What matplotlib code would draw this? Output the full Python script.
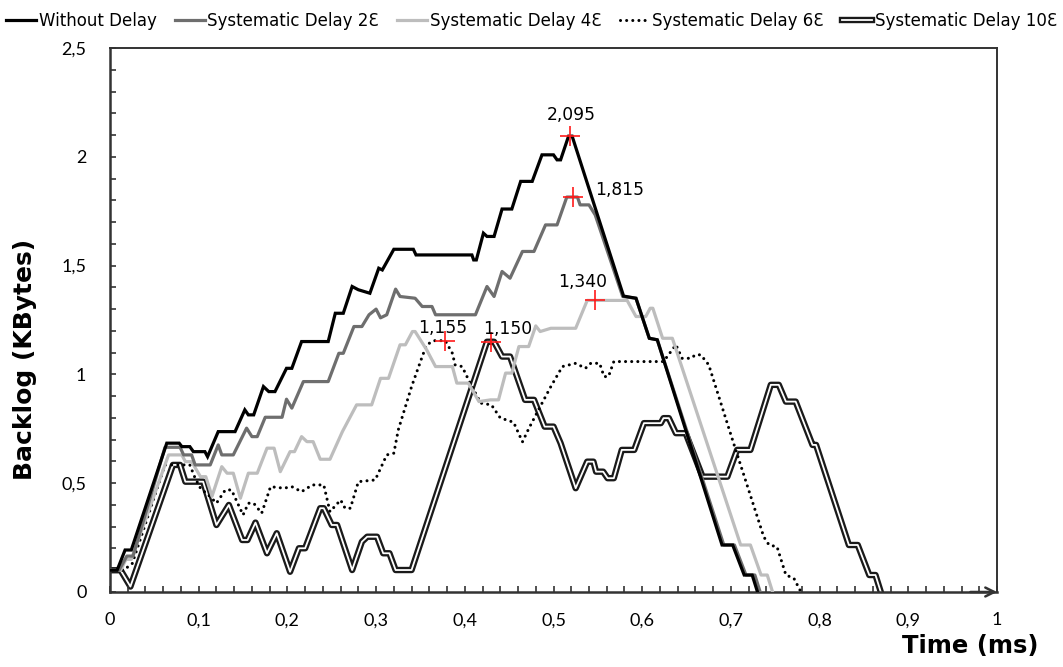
import matplotlib
matplotlib.use("Agg")
import matplotlib.pyplot as plt
import matplotlib.patheffects as pe
from matplotlib.ticker import MultipleLocator, FuncFormatter

# Backlog traces (time in ms, backlog in KBytes)
no_delay_t = [0, 0.008, 0.017, 0.024, 0.064, 0.078, 0.081, 0.090, 0.094, 0.107, 0.110, 0.122, 0.141,
              0.152, 0.156, 0.162, 0.173, 0.179, 0.186, 0.199, 0.205, 0.216, 0.246, 0.254, 0.263,
              0.273, 0.280, 0.293, 0.303, 0.307, 0.320, 0.342, 0.345, 0.408, 0.410, 0.413, 0.421,
              0.425, 0.433, 0.442, 0.453, 0.463, 0.476, 0.487, 0.500, 0.504, 0.508, 0.517, 0.521,
              0.579, 0.593, 0.608, 0.617, 0.690, 0.702, 0.715, 0.724, 0.730]
no_delay_b = [0.10, 0.10, 0.193, 0.193, 0.684, 0.684, 0.668, 0.668, 0.645, 0.645, 0.622, 0.737, 0.737,
              0.837, 0.814, 0.814, 0.944, 0.921, 0.921, 1.028, 1.028, 1.151, 1.151, 1.281, 1.281,
              1.404, 1.389, 1.373, 1.488, 1.480, 1.575, 1.575, 1.549, 1.549, 1.526, 1.526, 1.649,
              1.634, 1.634, 1.760, 1.760, 1.887, 1.887, 2.009, 2.009, 1.986, 1.986, 2.095, 2.095,
              1.360, 1.350, 1.166, 1.159, 0.216, 0.216, 0.078, 0.078, 0.0]

delay2_t = [0, 0.010, 0.019, 0.026, 0.062, 0.079, 0.083, 0.092, 0.096, 0.113, 0.122, 0.126, 0.139,
            0.154, 0.160, 0.166, 0.175, 0.194, 0.199, 0.205, 0.218, 0.246, 0.258, 0.263, 0.275,
            0.284, 0.292, 0.300, 0.305, 0.312, 0.322, 0.327, 0.344, 0.352, 0.363, 0.367, 0.412,
            0.425, 0.433, 0.442, 0.451, 0.465, 0.478, 0.491, 0.504, 0.515, 0.527, 0.530, 0.540,
            0.547, 0.578, 0.593, 0.608, 0.617, 0.692, 0.704, 0.717, 0.727, 0.733]
delay2_b = [0.10, 0.10, 0.165, 0.165, 0.665, 0.665, 0.630, 0.630, 0.584, 0.584, 0.676, 0.630, 0.630,
            0.753, 0.714, 0.714, 0.803, 0.803, 0.886, 0.845, 0.967, 0.967, 1.097, 1.097, 1.220,
            1.220, 1.274, 1.300, 1.260, 1.274, 1.392, 1.358, 1.350, 1.312, 1.312, 1.274, 1.274,
            1.404, 1.358, 1.473, 1.442, 1.565, 1.565, 1.687, 1.687, 1.815, 1.815, 1.779, 1.779,
            1.733, 1.358, 1.350, 1.166, 1.159, 0.216, 0.216, 0.078, 0.078, 0.0]

delay4_t = [0, 0.012, 0.018, 0.024, 0.066, 0.081, 0.085, 0.092, 0.102, 0.108, 0.115, 0.126, 0.132,
            0.139, 0.147, 0.156, 0.166, 0.177, 0.185, 0.192, 0.203, 0.208, 0.216, 0.222, 0.229,
            0.237, 0.248, 0.262, 0.278, 0.295, 0.305, 0.314, 0.327, 0.333, 0.341, 0.344, 0.357,
            0.367, 0.386, 0.391, 0.404, 0.416, 0.429, 0.438, 0.446, 0.453, 0.461, 0.472, 0.480,
            0.485, 0.497, 0.525, 0.538, 0.583, 0.593, 0.604, 0.609, 0.612, 0.623, 0.634, 0.711,
            0.722, 0.734, 0.741, 0.747]
delay4_b = [0.10, 0.10, 0.15, 0.15, 0.630, 0.630, 0.599, 0.599, 0.530, 0.530, 0.440, 0.576, 0.546,
            0.546, 0.431, 0.546, 0.546, 0.661, 0.661, 0.553, 0.645, 0.645, 0.714, 0.691, 0.691,
            0.610, 0.610, 0.737, 0.860, 0.860, 0.982, 0.982, 1.136, 1.136, 1.197, 1.197, 1.113,
            1.036, 1.036, 0.960, 0.960, 0.875, 0.883, 0.883, 1.006, 1.006, 1.128, 1.128, 1.223,
            1.197, 1.212, 1.212, 1.340, 1.340, 1.266, 1.266, 1.304, 1.304, 1.166, 1.166, 0.216,
            0.216, 0.078, 0.078, 0.0]

delay6_t = [0, 0.015, 0.025, 0.062, 0.090, 0.096, 0.102, 0.113, 0.120, 0.130, 0.137, 0.150, 0.156,
            0.162, 0.171, 0.181, 0.196, 0.205, 0.216, 0.228, 0.241, 0.248, 0.260, 0.265, 0.271,
            0.280, 0.299, 0.312, 0.320, 0.325, 0.340, 0.352, 0.357, 0.365, 0.378, 0.386, 0.389,
            0.397, 0.406, 0.418, 0.430, 0.440, 0.455, 0.465, 0.472, 0.485, 0.497, 0.510, 0.525,
            0.536, 0.542, 0.552, 0.557, 0.562, 0.568, 0.624, 0.638, 0.645, 0.655, 0.660, 0.666,
            0.675, 0.703, 0.737, 0.743, 0.752, 0.762, 0.771, 0.779]
delay6_b = [0.10, 0.10, 0.13, 0.584, 0.584, 0.523, 0.477, 0.438, 0.408, 0.469, 0.469, 0.354, 0.408,
            0.408, 0.362, 0.484, 0.477, 0.484, 0.461, 0.492, 0.492, 0.369, 0.423, 0.385, 0.385,
            0.507, 0.515, 0.630, 0.638, 0.745, 0.944, 1.082, 1.136, 1.155, 1.155, 1.097, 1.044,
            1.036, 0.960, 0.868, 0.860, 0.800, 0.780, 0.690, 0.750, 0.852, 0.944, 1.036, 1.051,
            1.028, 1.051, 1.051, 0.990, 0.990, 1.059, 1.059, 1.136, 1.074, 1.074, 1.090, 1.090,
            1.044, 0.684, 0.254, 0.216, 0.208, 0.078, 0.063, 0.0]

delay10_t = [0, 0.012, 0.023, 0.071, 0.079, 0.085, 0.105, 0.120, 0.134, 0.149, 0.155, 0.164, 0.177,
             0.188, 0.203, 0.213, 0.220, 0.237, 0.241, 0.250, 0.256, 0.273, 0.284, 0.290, 0.301,
             0.308, 0.315, 0.322, 0.340, 0.425, 0.433, 0.442, 0.451, 0.468, 0.478, 0.490, 0.500,
             0.508, 0.525, 0.538, 0.545, 0.548, 0.556, 0.561, 0.568, 0.577, 0.591, 0.602, 0.621,
             0.624, 0.630, 0.638, 0.649, 0.668, 0.696, 0.707, 0.722, 0.745, 0.754, 0.762, 0.773,
             0.792, 0.796, 0.833, 0.843, 0.856, 0.863, 0.869]
delay10_b = [0.10, 0.10, 0.025, 0.584, 0.584, 0.507, 0.507, 0.308, 0.400, 0.239, 0.239, 0.319, 0.178,
             0.270, 0.093, 0.201, 0.201, 0.385, 0.385, 0.308, 0.308, 0.101, 0.231, 0.254, 0.254,
             0.178, 0.178, 0.101, 0.101, 1.150, 1.150, 1.082, 1.082, 0.883, 0.883, 0.760, 0.760,
             0.684, 0.477, 0.599, 0.599, 0.553, 0.553, 0.523, 0.523, 0.653, 0.653, 0.776, 0.776,
             0.799, 0.799, 0.730, 0.730, 0.530, 0.530, 0.653, 0.653, 0.952, 0.952, 0.875, 0.875,
             0.676, 0.676, 0.216, 0.216, 0.078, 0.078, 0.0]

series_labels = ["Without Delay", "Systematic Delay 2\u0190", "Systematic Delay 4\u0190",
                 "Systematic Delay 6\u0190", "Systematic Delay 10\u0190"]

# Maximum backlog of each trace
peak_t = [0.519, 0.522, 0.547, 0.378, 0.429]
peak_b = [2.095, 1.815, 1.340, 1.155, 1.150]

x_ticks = [0, 0.1, 0.2, 0.3, 0.4, 0.5, 0.6, 0.7, 0.8, 0.9, 1]
y_ticks = [0, 0.5, 1, 1.5, 2, 2.5]


def comma(v, _pos=None):
    return f"{v:g}".replace(".", ",")


plt.rcParams["font.family"] = ["DejaVu Sans"]

fig = plt.figure(figsize=(10.63, 6.67), dpi=100)
ax = fig.add_axes([110 / 1063, 1 - 592 / 667, (997 - 110) / 1063, (592 - 48) / 667])

ax.plot(no_delay_t, no_delay_b, color="black", lw=2.3, solid_joinstyle="miter",
        label=series_labels[0], zorder=5)
ax.plot(delay2_t, delay2_b, color="#6e6e6e", lw=2.3, label=series_labels[1], zorder=4)
ax.plot(delay4_t, delay4_b, color="#bdbdbd", lw=2.3, label=series_labels[2], zorder=3)
ax.plot(delay6_t, delay6_b, color="black", lw=2.2, linestyle=(0, (0.01, 2.0)),
        dash_capstyle="round", label=series_labels[3], zorder=2)
ax.plot(delay10_t, delay10_b, color="white", lw=1.3, label=series_labels[4], zorder=1,
        path_effects=[pe.Stroke(linewidth=4.6, foreground="#1a1a1a"), pe.Normal()])

# Peak markers with their values
offsets = [(1, 9, "center", "bottom"), (16, 5, "left", "center"), (-9, 13, "center", "center"),
           (-2, 9, "center", "center"), (12, 9, "center", "center")]
for t, b, (dx, dy, ha, va) in zip(peak_t, peak_b, offsets):
    ax.plot([t], [b], marker="+", ms=14, mew=1.2, color="#ff1a1a", zorder=10)
    ax.annotate(f"{b:.3f}".replace(".", ","), (t, b), xytext=(dx, dy),
                textcoords="offset points", ha=ha, va=va, fontsize=12.3, zorder=11)

ax.set_xlim(0, 1)
ax.set_ylim(0, 2.5)
ax.set_xticks(x_ticks)
ax.set_yticks(y_ticks)
ax.xaxis.set_minor_locator(MultipleLocator(0.02))
ax.yaxis.set_minor_locator(MultipleLocator(0.1))
ax.xaxis.set_major_formatter(FuncFormatter(comma))
ax.yaxis.set_major_formatter(FuncFormatter(comma))
ax.tick_params(which="both", direction="in", length=4, width=1.2, color="#333333")
ax.tick_params(axis="x", which="major", pad=14.5, labelsize=13)
ax.tick_params(axis="y", which="major", pad=17, labelsize=13)
for lab in ax.get_xticklabels() + ax.get_yticklabels():
    lab.set_family(["Lato", "DejaVu Sans"])

for side in ("left", "bottom"):
    ax.spines[side].set_linewidth(1.8)
    ax.spines[side].set_color("#333333")
for side in ("top", "right"):
    ax.spines[side].set_linewidth(1.4)
    ax.spines[side].set_color("#333333")

ax.annotate("", xy=(1.0, 0), xytext=(0.97, 0), xycoords="axes fraction",
            arrowprops=dict(arrowstyle="->", lw=1.8, color="#333333",
                            mutation_scale=16, shrinkA=0, shrinkB=0),
            annotation_clip=False, zorder=12)

fig.text(25 / 1063, 1 - 359 / 667, "Backlog (KBytes)", rotation=90, ha="center", va="center",
         fontsize=18, fontweight="bold")
fig.text(970 / 1063, 1 - 646 / 667, "Time (ms)", ha="center", va="center",
         fontsize=17.5, fontweight="bold")

fig.legend(loc="upper center", bbox_to_anchor=(0.5, 1.005), ncol=5, frameon=False,
           fontsize=12, handlelength=1.8, handletextpad=0.15, columnspacing=1.1)

fig.savefig("out.png", dpi=100)
